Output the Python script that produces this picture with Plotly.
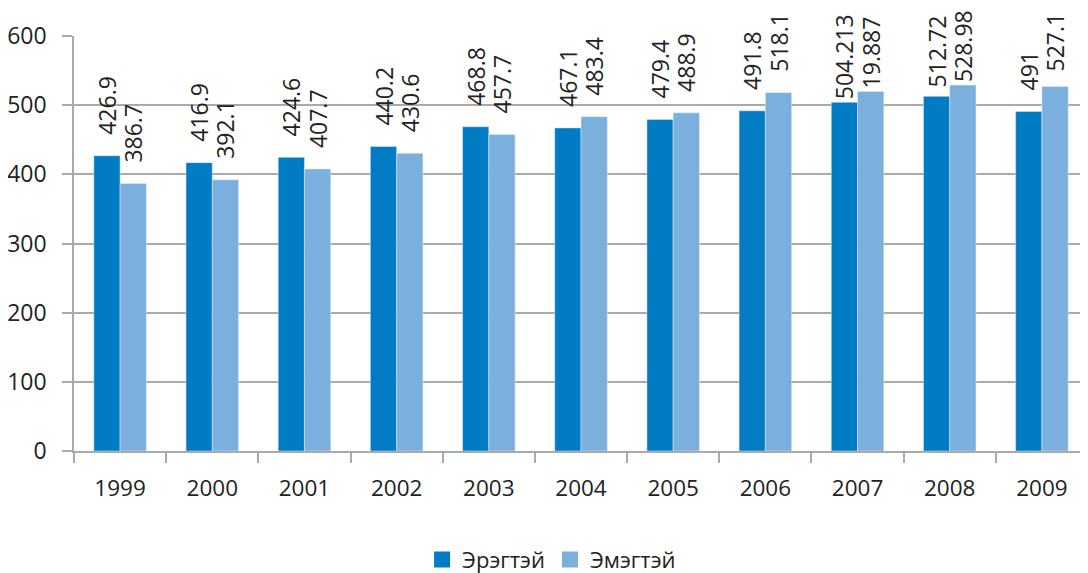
import plotly.graph_objects as go

years = ["1999", "2000", "2001", "2002", "2003", "2004", "2005", "2006", "2007", "2008", "2009"]
male = [426.9, 416.9, 424.6, 440.2, 468.8, 467.1, 479.4, 491.8, 504.213, 512.72, 491]
female = [386.7, 392.1, 407.7, 430.6, 457.7, 483.4, 488.9, 518.1, 519.887, 528.98, 527.1]
male_labels = ["426.9", "416.9", "424.6", "440.2", "468.8", "467.1", "479.4", "491.8", "504.213", "512.72", "491"]
female_labels = ["386.7", "392.1", "407.7", "430.6", "457.7", "483.4", "488.9", "518.1", "19.887", "528.98", "527.1"]
y_ticks = [0, 100, 200, 300, 400, 500, 600]

FONT = "Open Sans"
LABEL_SIZE = 23
Y_MAX = 600
PLOT_TOP, PLOT_H = 36, 415  # page pixels of the plotting area


def padded(values, labels):
    # push the rotated labels away from the bar tops, less when they near the page top
    out = []
    for v, s in zip(values, labels):
        bartop = PLOT_TOP + (Y_MAX - v) * PLOT_H / Y_MAX
        length = sum(0.572 * LABEL_SIZE if c.isdigit() else 0.265 * LABEL_SIZE for c in s)
        room = bartop - 3 - length - 12
        n = int(max(0, min(3, room // 6)))
        out.append("\u00a0" * n + s)
    return out


fig = go.Figure()
fig.add_trace(go.Bar(x=years, y=male, name="Эрэгтэй", marker_color="#007BC4",
                     text=padded(male, male_labels), textposition="outside", textangle=-90,
                     constraintext="none", showlegend=False,
                     textfont=dict(size=LABEL_SIZE, color="#222"), cliponaxis=False))
fig.add_trace(go.Bar(x=years, y=female, name="Эмэгтэй", marker_color="#7AAFDE",
                     text=padded(female, female_labels), textposition="outside", textangle=-90,
                     constraintext="none", showlegend=False,
                     textfont=dict(size=LABEL_SIZE, color="#222"), cliponaxis=False))
# legend entries with larger square swatches
for name, col in [("Эрэгтэй", "#007BC4"), ("Эмэгтэй", "#7AAFDE")]:
    fig.add_trace(go.Scatter(x=[None], y=[None], mode="markers", name=name,
                             marker=dict(symbol="square", size=18, color=col)))

fig.update_layout(
    width=1080, height=565,
    margin=dict(l=66, r=0, t=28, b=122, autoexpand=False),
    barmode="group", bargap=0.43, bargroupgap=0,
    plot_bgcolor="white", paper_bgcolor="white",
    font=dict(family=FONT, size=22, color="#222"),
    legend=dict(orientation="h", x=0.471, xanchor="center", y=-0.262, yanchor="middle",
                font=dict(size=22), itemwidth=30, traceorder="normal"),
    xaxis=dict(type="category", showline=True, linecolor="#aaa", linewidth=1.5,
               ticks="outside", tickson="boundaries", ticklen=10, tickcolor="#aaa",
               tickwidth=1.5, ticklabelstandoff=16, tickfont=dict(size=22.5),
               automargin=False),
    yaxis=dict(range=[0, Y_MAX], tickvals=y_ticks, showgrid=True, gridcolor="#aaa",
               gridwidth=1.5, showline=True, linecolor="#aaa", linewidth=1.5,
               ticks="outside", ticklen=10, tickcolor="#aaa", tickwidth=1.5,
               ticklabelstandoff=11, zeroline=False, tickfont=dict(size=23),
               automargin=False),
)
fig.write_html("out.html")
